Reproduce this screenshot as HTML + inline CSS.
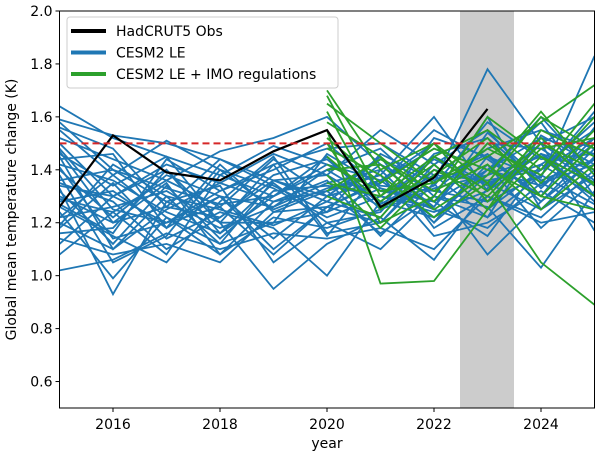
<!DOCTYPE html>
<html><head><meta charset="utf-8"><style>
body{margin:0;background:#fff;}
svg text{font-family:"DejaVu Sans","Liberation Sans",sans-serif;}
</style></head><body>
<svg id="chart" width="600" height="459">
<rect x="460" y="11" width="54" height="397" fill="#cccccc"/>
<g id="marks"></g>
<g id="axes"></g>
</svg>
<script>
const years = [2015,2016,2017,2018,2019,2020,2021,2022,2023,2024,2025];
const obs = [1.26,1.53,1.39,1.36,1.47,1.55,1.26,1.37,1.63];
const blue = [
[1.64,1.52,1.45,1.38,1.49,1.42,1.36,1.48,1.40,1.52,1.46],
[1.59,1.53,1.50,1.44,1.36,1.30,1.44,1.35,1.78,1.50,1.60],
[1.58,1.40,1.33,1.27,1.30,1.45,1.25,1.52,1.45,1.37,1.83],
[1.55,1.38,1.51,1.40,1.25,1.33,1.38,1.60,1.32,1.46,1.40],
[1.50,1.30,1.42,1.35,1.46,1.38,1.55,1.42,1.55,1.33,1.52],
[1.48,1.25,1.20,1.32,1.40,1.50,1.33,1.28,1.40,1.58,1.30],
[1.45,1.10,1.30,1.25,1.19,1.28,1.22,1.45,1.35,1.42,1.55],
[1.42,1.36,1.24,1.16,1.30,1.40,1.48,1.30,1.60,1.25,1.45],
[1.40,1.22,1.38,1.30,1.10,1.26,1.36,1.50,1.28,1.38,1.62],
[1.38,1.05,1.15,1.40,1.33,1.22,1.30,1.26,1.50,1.48,1.35],
[1.35,1.28,1.10,1.22,1.38,1.44,1.27,1.38,1.22,1.53,1.42],
[1.33,0.93,1.28,1.18,1.26,1.35,1.40,1.20,1.45,1.30,1.50],
[1.30,1.20,1.35,1.08,1.22,1.18,1.25,1.33,1.38,1.45,1.28],
[1.28,1.32,1.18,1.30,1.14,1.30,1.45,1.18,1.30,1.22,1.40],
[1.26,1.15,1.05,1.28,1.45,1.16,1.20,1.42,1.25,1.40,1.58],
[1.24,0.99,1.22,1.12,1.20,1.24,1.33,1.25,1.18,1.35,1.25],
[1.22,1.26,1.32,1.20,0.95,1.12,1.22,1.06,1.33,1.50,1.17],
[1.20,1.10,1.25,1.35,1.28,1.36,1.15,1.35,1.08,1.28,1.44],
[1.18,1.35,1.14,1.24,1.18,1.00,1.28,1.22,1.42,1.18,1.36],
[1.16,1.18,1.40,1.16,1.35,1.20,1.10,1.30,1.26,1.03,1.32],
[1.14,1.08,1.12,1.05,1.24,1.32,1.38,1.15,1.20,1.32,1.20],
[1.12,1.30,1.20,1.26,1.08,1.26,1.20,1.40,1.35,1.25,1.38],
[1.08,1.24,1.08,1.38,1.30,1.42,1.32,1.28,1.15,1.42,1.30],
[1.02,1.06,1.16,1.10,1.16,1.14,1.18,1.10,1.30,1.20,1.24],
[1.52,1.44,1.36,1.47,1.52,1.60,1.42,1.32,1.48,1.55,1.48],
[1.46,1.34,1.45,1.20,1.42,1.48,1.50,1.38,1.36,1.40,1.52],
[1.36,1.40,1.28,1.34,1.05,1.20,1.24,1.46,1.52,1.35,1.42],
[1.32,1.12,1.34,1.14,1.32,1.34,1.30,1.24,1.32,1.46,1.34],
[1.44,1.46,1.18,1.42,1.24,1.26,1.35,1.55,1.44,1.30,1.56],
[1.56,1.48,1.26,1.22,1.36,1.38,1.26,1.34,1.58,1.44,1.46],
[1.27,1.16,1.44,1.32,1.42,1.15,1.40,1.20,1.38,1.60,1.38],
[1.22,1.38,1.22,1.08,1.28,1.32,1.16,1.30,1.22,1.38,1.27],
[1.47,1.20,1.26,1.44,1.34,1.24,1.46,1.36,1.46,1.28,1.48],
[1.34,1.30,1.40,1.20,1.20,1.46,1.34,1.32,1.28,1.50,1.36],
[1.19,1.42,1.30,1.12,1.36,1.28,1.42,1.26,1.54,1.36,1.44],
[1.41,1.14,1.20,1.30,1.26,1.40,1.28,1.44,1.34,1.46,1.30],
[1.29,1.24,1.36,1.26,1.44,1.30,1.36,1.22,1.40,1.34,1.50]
];
const green = [
[1.70,1.40,1.50,1.35,1.60,1.48],
[1.68,1.30,1.45,1.55,1.40,1.65],
[1.65,1.50,1.35,1.45,1.58,1.72],
[1.62,1.25,1.40,1.30,1.50,1.40],
[1.58,1.45,1.28,1.50,1.35,1.55],
[1.55,0.97,0.98,1.25,1.45,1.35],
[1.52,1.35,1.48,1.40,1.30,1.50],
[1.50,1.20,1.30,1.60,1.45,1.30],
[1.48,1.38,1.22,1.35,1.05,0.89],
[1.45,1.28,1.42,1.25,1.55,1.45],
[1.42,1.32,1.35,1.48,1.38,1.60],
[1.40,1.42,1.25,1.38,1.62,1.38],
[1.38,1.18,1.38,1.52,1.30,1.25],
[1.35,1.30,1.50,1.28,1.48,1.52],
[1.32,1.44,1.32,1.42,1.25,1.42],
[1.30,1.22,1.45,1.32,1.52,1.34]
];
const yTicks = [0.6,0.8,1.0,1.2,1.4,1.6,1.8,2.0];
const xTicks = [2016,2018,2020,2022,2024];
const threshold = 1.5;

const X0=59.5,X1=594.5,Y0=408,Y1=11;
const sx=v=>X0+(v-2015)/(2025-2015)*(X1-X0);
const sy=v=>Y0-(v-0.5)/(2.0-0.5)*(Y0-Y1);
const NS='http://www.w3.org/2000/svg';
const marks=document.getElementById('marks'), axes=document.getElementById('axes');
function mk(tag,attrs,parent){const e=document.createElementNS(NS,tag);for(const k in attrs)e.setAttribute(k,attrs[k]);parent.appendChild(e);return e;}
function line(vals,startIdx,color,w,parent){
  const pts=vals.map((v,i)=>sx(years[startIdx+i]).toFixed(1)+','+sy(v).toFixed(1)).join(' ');
  return mk('polyline',{points:pts,fill:'none',stroke:color,'stroke-width':w,'stroke-linejoin':'miter'},parent);
}
const clip=mk('clipPath',{id:'cp'},document.getElementById('chart'));
mk('rect',{x:X0,y:Y1,width:X1-X0,height:Y0-Y1},clip);
marks.setAttribute('clip-path','url(#cp)');
blue.forEach((s,i)=>{const el=line(s,0,'#1f77b4',1.8,marks);

});
green.forEach((s,i)=>{const el=line(s,5,'#2ca02c',1.8,marks);

});
const ob=line(obs,0,'#000',2.2,marks);


const th=mk('line',{x1:X0,x2:X1,y1:sy(threshold),y2:sy(threshold),stroke:'#d62728','stroke-width':2,'stroke-dasharray':'7,4'},marks);


const fr=mk('rect',{x:X0,y:Y1,width:X1-X0,height:Y0-Y1,fill:'none',stroke:'#000','stroke-width':1},axes);


yTicks.forEach(t=>{const y=sy(t);mk('line',{x1:X0-4,x2:X0,y1:y,y2:y,stroke:'#000'},axes);
const tx=mk('text',{x:X0-7,y:y+5,'text-anchor':'end','font-size':14},axes);tx.textContent=t.toFixed(1);

});
xTicks.forEach(t=>{const x=sx(t);mk('line',{x1:x,x2:x,y1:Y0,y2:Y0+4,stroke:'#000'},axes);
const tx=mk('text',{x:x,y:Y0+21,'text-anchor':'middle','font-size':14},axes);tx.textContent=t;

});
const xl=mk('text',{x:(X0+X1)/2,y:448,'text-anchor':'middle','font-size':14},axes);xl.textContent='year';


const yl=mk('text',{x:0,y:0,'text-anchor':'middle','font-size':14,transform:'translate(16,'+((Y0+Y1)/2)+') rotate(-90)'},axes);yl.textContent='Global mean temperature change (K)';


const lg=mk('g',{},axes);


mk('rect',{x:67,y:17,width:271,height:71,rx:3,fill:'#fff','fill-opacity':0.8,stroke:'#ccc'},lg);
[['HadCRUT5 Obs','#000'],['CESM2 LE','#1f77b4'],['CESM2 LE + IMO regulations','#2ca02c']].forEach((d,i)=>{
const y=31+i*21.5;
mk('line',{x1:71,x2:106,y1:y,y2:y,stroke:d[1],'stroke-width':4},lg);
const t=mk('text',{x:116,y:y+5,'font-size':14},lg);t.textContent=d[0];

});
</script>
</body></html>
